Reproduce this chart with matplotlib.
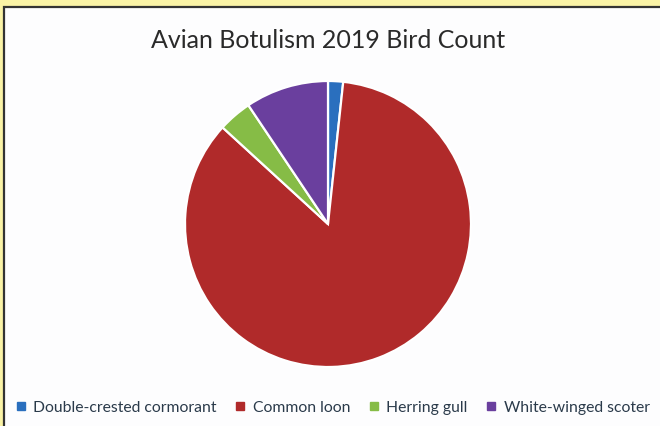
"""
Avian Botulism 2019 bird count, pie chart with a bottom legend.
Writes out.png (660x427).
"""

import matplotlib
matplotlib.use("Agg")
import matplotlib.pyplot as plt
from matplotlib.patches import Rectangle
from matplotlib.lines import Line2D

# data (share of birds, %)
SPECIES = ["Double-crested cormorant", "Common loon", "Herring gull", "White-winged scoter"]
SHARE = [1.7, 85.1, 3.8, 9.4]

COLORS = ["#2a6fbe", "#b02a2a", "#86bc46", "#6a3f9e"]
YELLOW = "#faf3a6"
PANEL = "#fdfdfe"
INK = "#2a2a2a"

plt.rcParams["font.family"] = ["Lato", "DejaVu Sans"]

W, H = 660, 427
fig = plt.figure(figsize=(W / 100, H / 100), dpi=100)
fig.patch.set_facecolor(YELLOW)

# white panel with a dark edge, running off the right and bottom
fig.patches.append(Rectangle((4 / W, -0.01), 1.0, 1 - 8 / H + 0.01,
                             transform=fig.transFigure, facecolor=PANEL,
                             edgecolor="#333333", lw=1.6, zorder=-5))

# pie: centre (328, 225) px, radius 143 px
cx, cy, r = 328, 225, 143
ax = fig.add_axes([(cx - r) / W, (H - cy - r) / H, 2 * r / W, 2 * r / H])
ax.set_zorder(2)
ax.pie(SHARE, colors=COLORS, startangle=90, counterclock=False, radius=1,
       wedgeprops={"edgecolor": "white", "linewidth": 1.6})
ax.set_xlim(-1, 1)
ax.set_ylim(-1, 1)
ax.axis("off")

fig.text(cx / W, 1 - 40 / H, "Avian Botulism 2019 Bird Count", ha="center", va="center",
         fontsize=18, color=INK)

handles = [Line2D([], [], marker="s", ls="", ms=5.5, color=c) for c in COLORS]
fig.legend(handles, SPECIES, loc="center", bbox_to_anchor=(333 / W, 1 - 408 / H),
           ncol=4, frameon=False, fontsize=11.3, handlelength=0.6, handletextpad=0.5,
           columnspacing=1.2, labelcolor="#2a3a4a")

fig.savefig("out.png", dpi=100, facecolor=YELLOW)
